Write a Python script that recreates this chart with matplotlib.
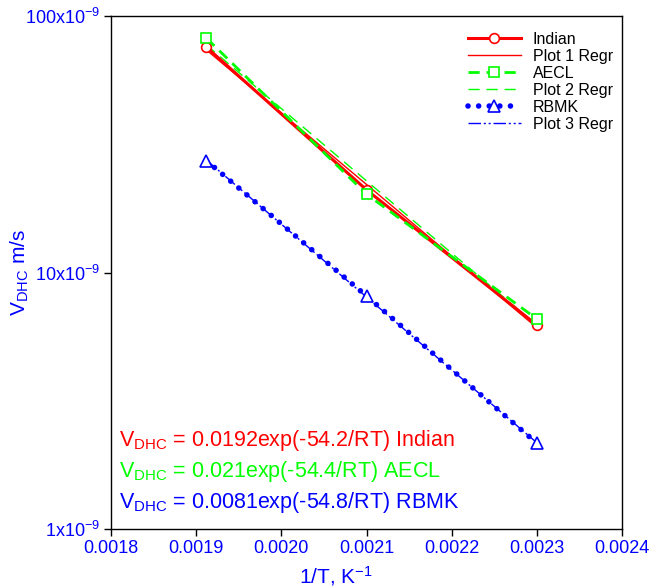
import numpy as np
import matplotlib
matplotlib.use("Agg")
import matplotlib.pyplot as plt
from matplotlib.lines import Line2D

plt.rcParams['font.family'] = ['Liberation Sans', 'DejaVu Sans']
plt.rcParams['mathtext.default'] = 'regular'

# ---- data ----
inv_T = [0.001912, 0.0021, 0.0023]
indian = [75.6e-9, 21.0e-9, 6.24e-9]
aecl = [82.0e-9, 20.2e-9, 6.59e-9]
rbmk = [27.3e-9, 8.1e-9, 2.16e-9]

legend_labels = ["Indian", "Plot 1 Regr", "AECL", "Plot 2 Regr", "RBMK", "Plot 3 Regr"]
x_ticks = [0.0018, 0.0019, 0.0020, 0.0021, 0.0022, 0.0023, 0.0024]
x_tick_labels = ["0.0018", "0.0019", "0.0020", "0.0021", "0.0022", "0.0023", "0.0024"]
y_ticks = [1e-9, 10e-9, 100e-9]
y_tick_labels = [r"1x10$^{-9}$", r"10x10$^{-9}$", r"100x10$^{-9}$"]
equations = [r"V$_{DHC}$ = 0.0192exp(-54.2/RT) Indian",
             r"V$_{DHC}$ = 0.021exp(-54.4/RT) AECL",
             r"V$_{DHC}$ = 0.0081exp(-54.8/RT) RBMK"]

RED = "#FF0000"
GREEN = "#00FF00"
BLUE = "#0000FF"

W, H = 653, 587
fig = plt.figure(figsize=(W / 100, H / 100), dpi=100)
ax = fig.add_axes([111 / W, 1 - 529 / H, 511 / W, 513 / H])


def regression(x, y):
    x = np.asarray(x)
    k, b = np.polyfit(x, np.log10(y), 1)
    return x, 10 ** (k * x + b)


# Indian
ax.plot(inv_T, indian, color=RED, lw=2.2, marker='o', ms=7, mfc='white',
        mec=RED, mew=1.2, zorder=4)
rx, ry = regression(inv_T, indian)
ax.plot(rx, ry, color=RED, lw=1.0, zorder=3)

# AECL
ax.plot(inv_T, aecl, color=GREEN, lw=2.0, ls=(0, (4, 2.5)), marker='s', ms=7,
        mfc='white', mec=GREEN, mew=1.2, zorder=4)
gx, gy = regression(inv_T, aecl)
ax.plot(gx, gy, color=GREEN, lw=1.0, ls=(0, (8, 5)), zorder=3)

# RBMK
ax.plot(inv_T, rbmk, color=BLUE, lw=4.0, ls=(0, (0.01, 1.9)),
        dash_capstyle='round', zorder=4)
ax.plot(inv_T, rbmk, ls='none', marker='^', ms=8, mfc='white', mec=BLUE,
        mew=1.2, zorder=5)
bx, by = regression(inv_T, rbmk)
ax.plot(bx, by, color=BLUE, lw=1.0, ls=(0, (9, 2, 1.5, 2, 1.5, 2)), zorder=3)

ax.set_yscale('log')
ax.set_xlim(0.0018, 0.0024)
ax.set_ylim(1e-9, 100e-9)
ax.set_xticks(x_ticks)
ax.set_xticklabels(x_tick_labels)
ax.set_yticks(y_ticks)
ax.set_yticklabels(y_tick_labels)
ax.yaxis.set_minor_locator(matplotlib.ticker.NullLocator())
ax.tick_params(direction='out', length=5, width=1, colors='black',
               labelcolor=BLUE, labelsize=13, pad=3)
for s in ax.spines.values():
    s.set_linewidth(1.0)

fig.text(336 / W, 1 - 576 / H, r"1/T, K$^{-1}$", color=BLUE, fontsize=15,
         ha='center', va='center')
fig.text(20 / W, 1 - 273 / H, r"V$_{DHC}$ m/s", color=BLUE, fontsize=15,
         ha='center', va='center', rotation=90)

eq_colors = [RED, GREEN, BLUE]
for i, (t, c) in enumerate(zip(equations, eq_colors)):
    fig.text(119 / W, 1 - (446 + 31 * i) / H, t, color=c, fontsize=15.5,
             ha='left', va='baseline')

handles = [
    Line2D([], [], color=RED, lw=2.2, marker='o', ms=7, mfc='white', mec=RED, mew=1.2),
    Line2D([], [], color=RED, lw=1.0),
    Line2D([], [], color=GREEN, lw=2.0, ls=(0, (4, 2.5)), marker='s', ms=7,
           mfc='white', mec=GREEN, mew=1.2),
    Line2D([], [], color=GREEN, lw=1.0, ls=(0, (8, 5))),
    Line2D([], [], color=BLUE, lw=4.0, ls=(0, (0.01, 1.9)), dash_capstyle='round',
           marker='^', ms=8, mfc='white', mec=BLUE, mew=1.2),
    Line2D([], [], color=BLUE, lw=1.0, ls=(0, (9, 2, 1.5, 2, 1.5, 2))),
]
fig.legend(handles, legend_labels, loc='upper left',
           bbox_to_anchor=(468 / W, 1 - 32 / H), frameon=False, fontsize=11.5,
           handlelength=3.3, handletextpad=0.75, labelspacing=0.12,
           borderpad=0, borderaxespad=0, numpoints=1)

fig.savefig("out.png", dpi=100)
